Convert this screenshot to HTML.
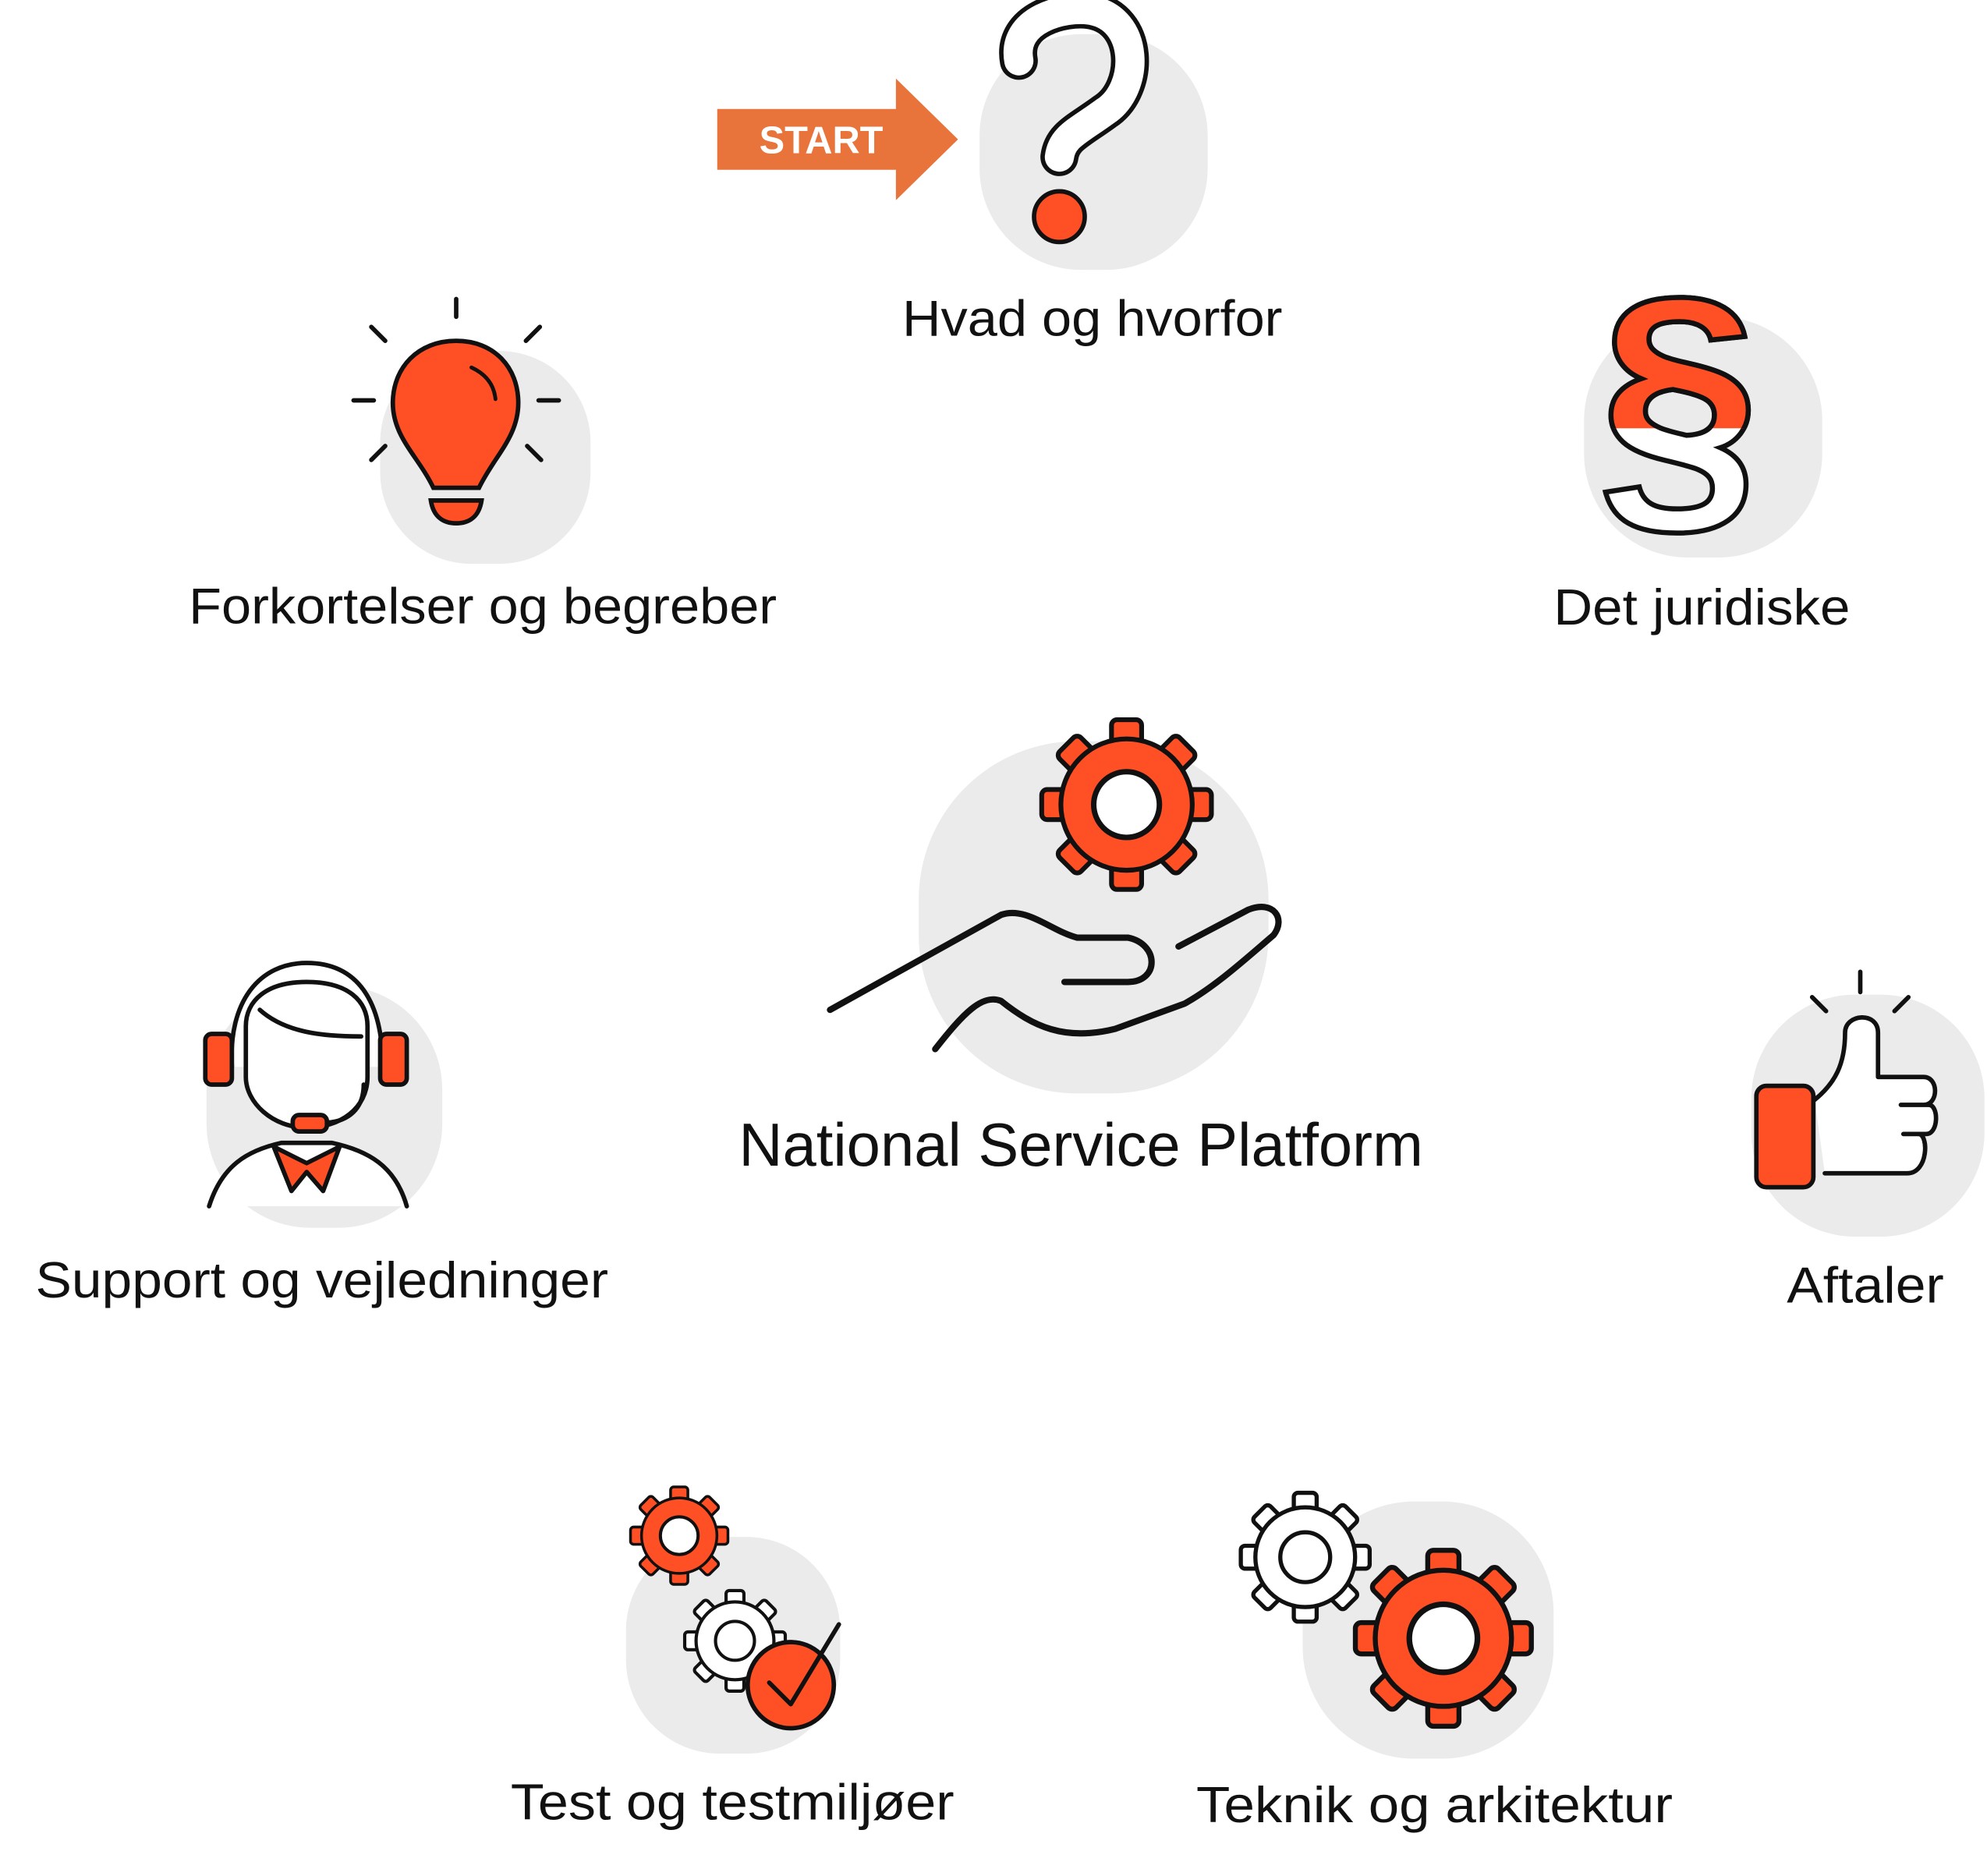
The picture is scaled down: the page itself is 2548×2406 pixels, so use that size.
<!DOCTYPE html>
<html><head><meta charset="utf-8"><style>
html,body{margin:0;padding:0;background:#fff}
svg{display:block}
text{font-family:"Liberation Sans",sans-serif}
</style></head><body>
<svg width="2548" height="2406" viewBox="0 0 1568 1480.6" xmlns="http://www.w3.org/2000/svg">
<defs>
<g id="gearO">
  <g stroke="#111" stroke-width="3.5" fill="#FF4F24">
    <rect x="-11" y="-62" width="22" height="24" rx="4"/>
    <rect x="-11" y="-62" width="22" height="24" rx="4" transform="rotate(45)"/>
    <rect x="-11" y="-62" width="22" height="24" rx="4" transform="rotate(90)"/>
    <rect x="-11" y="-62" width="22" height="24" rx="4" transform="rotate(135)"/>
    <rect x="-11" y="-62" width="22" height="24" rx="4" transform="rotate(180)"/>
    <rect x="-11" y="-62" width="22" height="24" rx="4" transform="rotate(225)"/>
    <rect x="-11" y="-62" width="22" height="24" rx="4" transform="rotate(270)"/>
    <rect x="-11" y="-62" width="22" height="24" rx="4" transform="rotate(315)"/>
    <circle r="48"/>
  </g>
  <circle r="24" fill="#fff" stroke="#111" stroke-width="4"/>
</g>
<g id="gearW">
  <g stroke="#111" stroke-width="4" fill="#fff">
    <rect x="-11" y="-62" width="22" height="24" rx="4"/>
    <rect x="-11" y="-62" width="22" height="24" rx="4" transform="rotate(45)"/>
    <rect x="-11" y="-62" width="22" height="24" rx="4" transform="rotate(90)"/>
    <rect x="-11" y="-62" width="22" height="24" rx="4" transform="rotate(135)"/>
    <rect x="-11" y="-62" width="22" height="24" rx="4" transform="rotate(180)"/>
    <rect x="-11" y="-62" width="22" height="24" rx="4" transform="rotate(225)"/>
    <rect x="-11" y="-62" width="22" height="24" rx="4" transform="rotate(270)"/>
    <rect x="-11" y="-62" width="22" height="24" rx="4" transform="rotate(315)"/>
    <circle r="48"/>
  </g>
  <circle r="24" fill="#fff" stroke="#111" stroke-width="4"/>
</g>
<clipPath id="topHalf"><rect x="1200" y="200" width="250" height="138"/></clipPath>
</defs>

<!-- blobs -->
<g fill="#EBEBEB">
  <rect x="773" y="27" width="180" height="186" rx="80"/>
  <rect x="300" y="277" width="166" height="168" rx="72"/>
  <rect x="1250" y="250" width="188" height="190" rx="82"/>
  <rect x="725" y="585" width="276" height="278" rx="125"/>
  <rect x="163" y="778" width="186" height="191" rx="82"/>
  <rect x="1382" y="785" width="184" height="191" rx="82"/>
  <rect x="494" y="1213" width="169" height="171" rx="74"/>
  <rect x="1028" y="1185" width="198" height="203" rx="88"/>
</g>

<!-- START arrow -->
<polygon points="566,86 707,86 707,62 756,110 707,158 707,134 566,134" fill="#E8743B"/>
<text x="648" y="121" font-size="30" font-weight="bold" fill="#fff" text-anchor="middle">START</text>

<!-- question mark -->
<path d="M804,48 C798,15 840,5 860,8 C900,14 900,70 872,88 C850,104 838,108 836,124" fill="none" stroke="#111" stroke-width="30" stroke-linecap="round" stroke-linejoin="round"/>
<path d="M804,48 C798,15 840,5 860,8 C900,14 900,70 872,88 C850,104 838,108 836,124" fill="none" stroke="#fff" stroke-width="23" stroke-linecap="round" stroke-linejoin="round"/>
<circle cx="836" cy="171" r="20" fill="#FF4F24" stroke="#111" stroke-width="3.5"/>

<!-- lightbulb -->
<g stroke="#111" stroke-width="3.5" stroke-linecap="round">
  <line x1="360" y1="236" x2="360" y2="250"/>
  <line x1="293" y1="258" x2="304" y2="269"/>
  <line x1="426" y1="258" x2="415" y2="269"/>
  <line x1="279" y1="316" x2="295" y2="316"/>
  <line x1="425" y1="316" x2="441" y2="316"/>
  <line x1="293" y1="363" x2="304" y2="352"/>
  <line x1="427" y1="363" x2="416" y2="352"/>
</g>
<path d="M360,269 C330,269 310,290 310,318 C310,345 330,360 342,385 L378,385 C390,360 409,345 409,318 C409,290 390,269 360,269 Z" fill="#FF4F24" stroke="#111" stroke-width="3.5"/>
<path d="M372,290 C385,296 390,305 391,315" fill="none" stroke="#111" stroke-width="3" stroke-linecap="round"/>
<path d="M340,395 L380,395 C378,408 370,413 360,413 C350,413 342,408 340,395 Z" fill="#FF4F24" stroke="#111" stroke-width="3.5"/>

<!-- § -->
<text x="1325" y="395" font-size="230" font-weight="bold" text-anchor="middle" fill="#fff" stroke="#111" stroke-width="4">§</text>
<text x="1325" y="395" font-size="230" font-weight="bold" text-anchor="middle" fill="#FF4F24" stroke="#111" stroke-width="4" clip-path="url(#topHalf)">§</text>

<!-- center gear + hand -->
<use href="#gearO" x="889" y="635" transform="translate(889,635) scale(1.08) translate(-889,-635)"/>
<g fill="none" stroke="#111" stroke-width="5" stroke-linecap="round" stroke-linejoin="round">
  <path d="M655,797 L790,722 C810,715 830,735 850,740 L890,740 C915,745 915,775 890,775 L840,775"/>
  <path d="M930,747 L985,718 C1005,710 1015,725 1005,738 C985,755 960,778 935,792 L880,812 C840,822 815,810 790,790 C775,784 760,800 738,828"/>
</g>

<!-- support person -->
<g stroke="#111" stroke-width="3.5" stroke-linejoin="round" stroke-linecap="round">
  <path d="M165,952 C175,920 195,908 222,902 L262,902 C290,908 312,920 321,952" fill="#fff"/>
  <path d="M216,905 L230,940 L242,925 L255,940 L268,905 L242,918 Z" fill="#FF4F24"/>
  <path d="M183,842 C180,790 205,760 242,760 C282,760 302,790 302,842" fill="#fff"/>
  <path d="M194,850 L194,810 C194,790 210,775 242,775 C275,775 290,790 290,810 L290,850 C290,875 268,890 242,890 C215,890 194,870 194,850 Z" fill="#fff"/>
  <path d="M205,797 C225,815 255,818 285,818" fill="none"/>
  <rect x="162" y="816" width="21" height="40" rx="5" fill="#FF4F24"/>
  <rect x="300" y="816" width="21" height="40" rx="5" fill="#FF4F24"/>
  <path d="M287,856 C287,875 275,885 258,886" fill="none"/>
  <rect x="231" y="880" width="27" height="13" rx="5" fill="#FF4F24"/>
</g>

<!-- thumbs up -->
<g stroke="#111" stroke-width="3.5" stroke-linecap="round" stroke-linejoin="round">
  <line x1="1468" y1="767" x2="1468" y2="783"/>
  <line x1="1430" y1="787" x2="1441" y2="798"/>
  <line x1="1506" y1="787" x2="1495" y2="798"/>
  <path d="M1432,868 C1448,855 1456,840 1456,815 C1456,800 1482,798 1482,815 L1482,850 L1518,850 C1530,850 1530,872 1518,872 L1500,872 L1522,872 C1530,872 1530,895 1520,895 L1502,895 L1514,895 C1522,895 1522,926 1505,926 L1440,926" fill="#fff"/>
  <rect x="1386" y="857" width="45" height="80" rx="8" fill="#FF4F24"/>
</g>

<!-- test gears -->
<use href="#gearO" transform="translate(536,1212) scale(0.62)"/>
<use href="#gearW" transform="translate(580,1295) scale(0.64)"/>
<circle cx="624" cy="1330" r="34" fill="#FF4F24" stroke="#111" stroke-width="3.5"/>
<path d="M607,1328 L624,1345 L662,1282" fill="none" stroke="#111" stroke-width="3.5" stroke-linecap="round" stroke-linejoin="round"/>

<!-- teknik gears -->
<use href="#gearW" transform="translate(1030,1229) scale(0.82)"/>
<use href="#gearO" transform="translate(1139,1293) scale(1.12)"/>

<!-- labels -->
<g fill="#111" font-size="40" text-anchor="middle">
  <text x="862" y="265" textLength="300" lengthAdjust="spacingAndGlyphs">Hvad og hvorfor</text>
  <text x="381" y="492" textLength="464" lengthAdjust="spacingAndGlyphs">Forkortelser og begreber</text>
  <text x="1343" y="493" textLength="234" lengthAdjust="spacingAndGlyphs">Det juridiske</text>
  <text x="853" y="920" font-size="48" textLength="540" lengthAdjust="spacingAndGlyphs">National Service Platform</text>
  <text x="254" y="1024" textLength="452" lengthAdjust="spacingAndGlyphs">Support og vejledninger</text>
  <text x="1472" y="1028" textLength="124" lengthAdjust="spacingAndGlyphs">Aftaler</text>
  <text x="578" y="1436" textLength="350" lengthAdjust="spacingAndGlyphs">Test og testmiljøer</text>
  <text x="1132" y="1438" textLength="376" lengthAdjust="spacingAndGlyphs">Teknik og arkitektur</text>
</g>
</svg>
</body></html>
